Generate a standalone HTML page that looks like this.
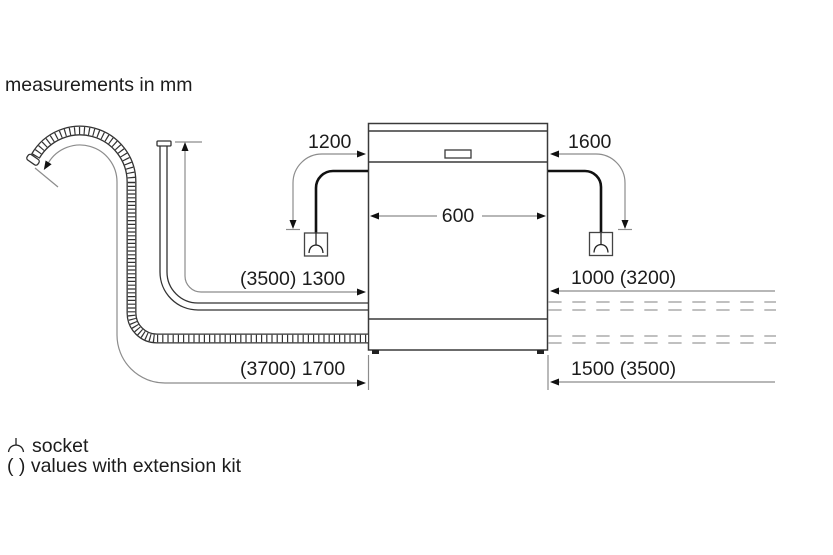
<!DOCTYPE html>
<html>
<head>
<meta charset="utf-8">
<style>
  html, body { margin:0; padding:0; background:#fff; }
  body { width:833px; height:555px; overflow:hidden; }
  svg { display:block; }
  text { font-family: "Liberation Sans", Arial, sans-serif; font-size:19.5px; fill:#1c1c1c; }
</style>
</head>
<body>
<svg width="833" height="555" viewBox="0 0 833 555" xmlns="http://www.w3.org/2000/svg">
  <rect width="833" height="555" fill="#fff"/>

  <!-- title -->
  <text x="5" y="91">measurements in mm</text>

  <!-- ===== Dishwasher ===== -->
  <g fill="none" stroke="#3a3a3a" stroke-width="1.5">
    <rect x="368.5" y="123.5" width="179" height="226.5"/>
    <line x1="368.5" y1="131" x2="547.5" y2="131"/>
    <line x1="368.5" y1="162" x2="547.5" y2="162"/>
    <line x1="368.5" y1="319" x2="547.5" y2="319"/>
    <rect x="445" y="150" width="26" height="8" stroke-width="1.3"/>
  </g>
  <rect x="372" y="350" width="7" height="4" fill="#222"/>
  <rect x="537" y="350" width="7" height="4" fill="#222"/>

  <!-- 600 -->
  <g stroke="#8c8c8c" stroke-width="1.2" fill="none">
    <line x1="378" y1="216" x2="437" y2="216"/>
    <line x1="482" y1="216" x2="538" y2="216"/>
  </g>
  <polygon points="370,216 379,212.5 379,219.5" fill="#111"/>
  <polygon points="546,216 537,212.5 537,219.5" fill="#111"/>
  <text x="458" y="222" text-anchor="middle">600</text>

  <!-- ===== Left 1200 ===== -->
  <g stroke="#8c8c8c" stroke-width="1.2" fill="none">
    <path d="M357 154 H322 A29 29 0 0 0 293 183 V221"/>
    <line x1="286" y1="229.5" x2="300" y2="229.5"/>
  </g>
  <polygon points="366,154 357,150.5 357,157.5" fill="#111"/>
  <polygon points="293,229 289.5,220 296.5,220" fill="#111"/>
  <text x="308" y="148">1200</text>

  <!-- left cable + socket -->
  <path d="M368 171 H333 A17 17 0 0 0 316 188 V233" fill="none" stroke="#111" stroke-width="2.6"/>
  <rect x="304.5" y="233" width="23" height="23" fill="none" stroke="#444" stroke-width="1.3"/>
  <g fill="none" stroke="#222" stroke-width="1.3">
    <line x1="316" y1="233" x2="316" y2="245"/>
    <path d="M309 253 Q309.5 245.5 316 245 Q322.5 245.5 323 253"/>
  </g>

  <!-- ===== Right 1600 ===== -->
  <g stroke="#8c8c8c" stroke-width="1.2" fill="none">
    <path d="M559 154 H596 A29 29 0 0 1 625 183 V221"/>
    <line x1="618" y1="229.5" x2="632" y2="229.5"/>
  </g>
  <polygon points="550,154 559,150.5 559,157.5" fill="#111"/>
  <polygon points="625,229 621.5,220 628.5,220" fill="#111"/>
  <text x="568" y="148">1600</text>

  <!-- right cable + socket -->
  <path d="M548 171 H585 A16 16 0 0 1 601 187 V232" fill="none" stroke="#111" stroke-width="2.6"/>
  <rect x="589.5" y="232.5" width="23" height="23" fill="none" stroke="#444" stroke-width="1.3"/>
  <g fill="none" stroke="#222" stroke-width="1.3">
    <line x1="601" y1="232.5" x2="601" y2="244.5"/>
    <path d="M594 252.5 Q594.5 245 601 244.5 Q607.5 245 608 252.5"/>
  </g>

  <!-- ===== Inlet hose (double line) ===== -->
  <g fill="none" stroke="#333" stroke-width="1.3">
    <path d="M160 146 V272 A38 38 0 0 0 198 310 H368"/>
    <path d="M167 146 V272 A31 31 0 0 0 198 303 H368"/>
    <rect x="157" y="141" width="14" height="5" rx="1"/>
  </g>

  <!-- 1300 dimension -->
  <g stroke="#8c8c8c" stroke-width="1.2" fill="none">
    <path d="M185 150 V276 A16 16 0 0 0 201 292 H357"/>
    <line x1="175" y1="142" x2="202" y2="142"/>
  </g>
  <polygon points="185,142 181.5,151 188.5,151" fill="#111"/>
  <polygon points="366,292 357,288.5 357,295.5" fill="#111"/>
  <text x="240" y="285">(3500) 1300</text>

  <!-- ===== Drain hose (ribbed) ===== -->
  <g fill="none">
    <path d="M35.4 156.3 A51.5 51.5 0 0 1 131.5 182 V313 A25.5 25.5 0 0 0 157 338.5 H368" stroke="#333" stroke-width="10"/>
    <path d="M35.4 156.3 A51.5 51.5 0 0 1 131.5 182 V313 A25.5 25.5 0 0 0 157 338.5 H368" stroke="#fff" stroke-width="7.4"/>
    <path d="M35.4 156.3 A51.5 51.5 0 0 1 131.5 182" stroke="#333" stroke-width="7.4" stroke-dasharray="1.2 3.6"/>
    <path d="M131.5 182 V313 A25.5 25.5 0 0 0 157 338.5" stroke="#333" stroke-width="7.4" stroke-dasharray="1.2 2.6"/>
    <path d="M157 338.5 H368" stroke="#333" stroke-width="7.4" stroke-dasharray="1.2 4"/>
  </g>
  <rect x="26.5" y="156.5" width="13" height="6.5" rx="2.5" fill="#fff" stroke="#333" stroke-width="1.3" transform="rotate(35 33 159.8)"/>

  <!-- 1700 dimension -->
  <g stroke="#8c8c8c" stroke-width="1.2" fill="none">
    <path d="M48.6 162.4 A37 37 0 0 1 117 182 V335 A48 48 0 0 0 165 383 H357"/>
    <line x1="35" y1="168" x2="58" y2="187"/>
  </g>
  <polygon points="43.8,170 51.6,164.3 45.6,160.5" fill="#111"/>
  <polygon points="366,383 357,379.5 357,386.5" fill="#111"/>
  <text x="240" y="375">(3700) 1700</text>

  <!-- extension lines below the dishwasher -->
  <g stroke="#8c8c8c" stroke-width="1.2">
    <line x1="368.5" y1="355" x2="368.5" y2="390"/>
    <line x1="548" y1="355" x2="548" y2="390"/>
  </g>

  <!-- ===== Right side lengths ===== -->
  <g stroke="#8c8c8c" stroke-width="1.2" fill="none">
    <line x1="559" y1="291" x2="775" y2="291"/>
    <line x1="559" y1="382" x2="775" y2="382"/>
  </g>
  <polygon points="550,291 559,287.5 559,294.5" fill="#111"/>
  <polygon points="550,382 559,378.5 559,385.5" fill="#111"/>
  <text x="571" y="284">1000 (3200)</text>
  <text x="571" y="375">1500 (3500)</text>

  <g stroke="#9a9a9a" stroke-width="1.3" stroke-dasharray="13.3 10.7">
    <line x1="548.3" y1="302" x2="776" y2="302"/>
    <line x1="548.3" y1="310" x2="776" y2="310"/>
    <line x1="548.3" y1="336" x2="776" y2="336"/>
    <line x1="548.3" y1="343" x2="776" y2="343"/>
  </g>

  <!-- ===== Legend ===== -->
  <g fill="none" stroke="#222" stroke-width="1.3">
    <line x1="16" y1="438" x2="16" y2="445"/>
    <path d="M8.5 452 Q9.5 445.5 16 445 Q22.5 445.5 23.5 452"/>
  </g>
  <text x="32" y="452">socket</text>
  <text x="7" y="472">( ) values with extension kit</text>
</svg>
</body>
</html>
